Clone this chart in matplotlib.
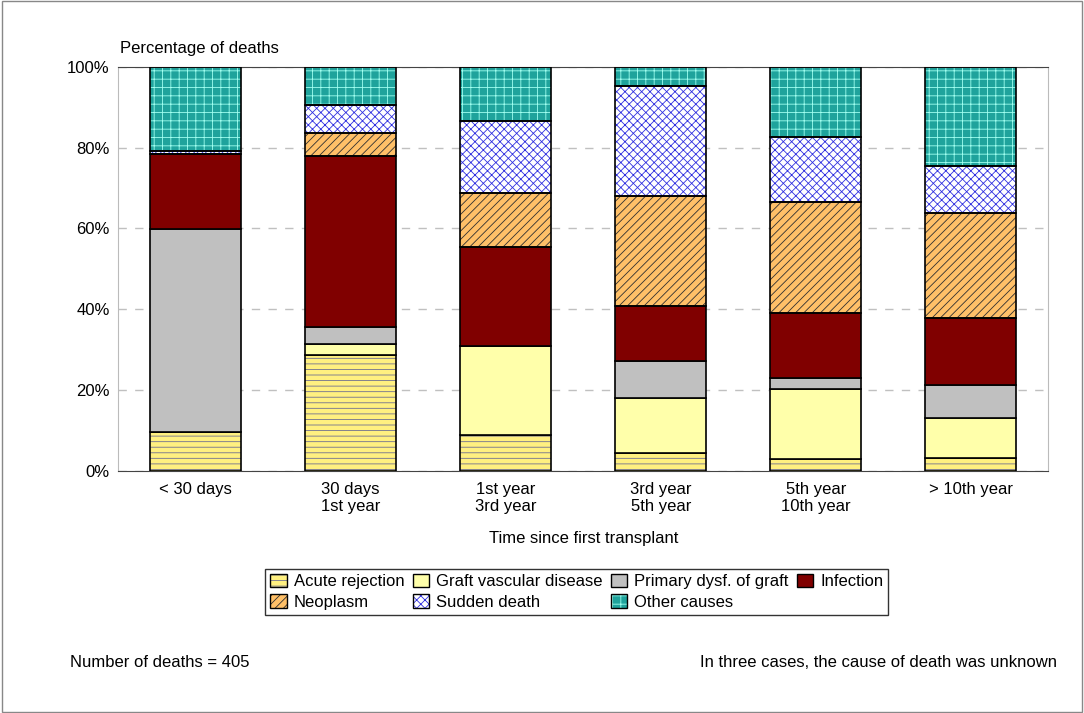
import numpy as np
import matplotlib.pyplot as plt
from matplotlib.patches import Patch, Rectangle

plt.rcParams['font.family'] = ['Liberation Sans', 'DejaVu Sans']
plt.rcParams['hatch.linewidth'] = 0.6

categories = ['< 30 days', '30 days\n1st year', '1st year\n3rd year',
              '3rd year\n5th year', '5th year\n10th year', '> 10th year']
causes = ['Acute rejection', 'Graft vascular disease', 'Primary dysf. of graft',
          'Infection', 'Neoplasm', 'Sudden death', 'Other causes']

# segment heights (%)
acute = [9.5, 28.7, 8.8, 4.3, 2.8, 3.1]
graft = [0.0, 2.7, 22.1, 13.8, 17.4, 9.9]
primary = [50.4, 4.1, 0.0, 9.1, 2.8, 8.2]
infection = [18.5, 42.5, 24.6, 13.6, 16.1, 16.5]
neoplasm = [0.0, 5.6, 13.3, 27.3, 27.4, 26.1]
sudden = [0.7, 6.9, 17.8, 27.3, 16.1, 11.6]
other = [20.9, 9.5, 13.4, 4.6, 17.4, 24.6]
series = [acute, graft, primary, infection, neoplasm, sudden, other]

faces = ['#FFF080', '#FFFFAA', '#C0C0C0', '#800000', '#FFC068', '#FFFFFF', '#1FA39C']
hatches = ['---', None, None, None, '////', 'xxxx', '++']
hcolors = ['#707090', None, None, None, '#303030', '#3030E0', '#A0FFF0']

fig = plt.figure(figsize=(10.84, 7.13), dpi=100)
fig.patches.append(Rectangle((0.002, 0.002), 0.996, 0.996, transform=fig.transFigure,
                             fill=False, edgecolor='#888888', linewidth=1))
ax = fig.add_axes([0.109, 0.34, 0.858, 0.566])

x = np.arange(len(categories))
bottom = np.zeros(len(categories))
handles = []
for vals, fc, h, hc, name in zip(series, faces, hatches, hcolors, causes):
    vals = np.array(vals)
    if h:
        ax.bar(x, vals, 0.59, bottom=bottom, color=fc, hatch=h, edgecolor=hc,
               linewidth=0, zorder=2)
    ax.bar(x, vals, 0.59, bottom=bottom, color=fc if not h else 'none',
           edgecolor='black', linewidth=1.2, zorder=3)
    if h:
        handles.append((Patch(facecolor=fc, hatch=h, edgecolor=hc, linewidth=0),
                        Patch(facecolor='none', edgecolor='black')))
    else:
        handles.append(Patch(facecolor=fc, edgecolor='black'))
    bottom += vals

ax.set_xlim(-0.5, 5.5)
ax.set_ylim(0, 100)
ax.set_yticks([0, 20, 40, 60, 80, 100])
ax.set_yticklabels(['0%', '20%', '40%', '60%', '80%', '100%'], fontsize=12)
ax.set_xticks(x)
ax.set_xticklabels(categories, fontsize=12)
ax.tick_params(axis='x', length=0, pad=8)
ax.tick_params(axis='y', length=0, pad=6)
ax.yaxis.grid(True, linestyle=(0, (6, 6)), color='#C0C0C0', linewidth=1)
ax.set_axisbelow(True)
for s in ['left', 'right', 'top', 'bottom']:
    ax.spines[s].set_color('#444444')
ax.spines['left'].set_color('#BBBBBB')
ax.spines['right'].set_color('#BBBBBB')
ax.set_xlabel('Time since first transplant', fontsize=12, labelpad=12)
fig.text(0.111, 0.925, 'Percentage of deaths', fontsize=12)

# row-wise order in a column-filled legend
order = [0, 4, 1, 5, 2, 6, 3]
leg = fig.legend([handles[i] for i in order], [causes[i] for i in order],
                 loc='center', bbox_to_anchor=(0.532, 0.17), ncol=4,
                 fontsize=12, frameon=True, fancybox=False, edgecolor='black',
                 handlelength=1.0, handleheight=0.9, handletextpad=0.4,
                 columnspacing=0.5, borderpad=0.3, labelspacing=0.3)
leg.get_frame().set_linewidth(1)

fig.text(0.065, 0.065, 'Number of deaths = 405', fontsize=12)
fig.text(0.975, 0.065, 'In three cases, the cause of death was unknown', fontsize=12, ha='right')

fig.savefig('out.png', dpi=100)
